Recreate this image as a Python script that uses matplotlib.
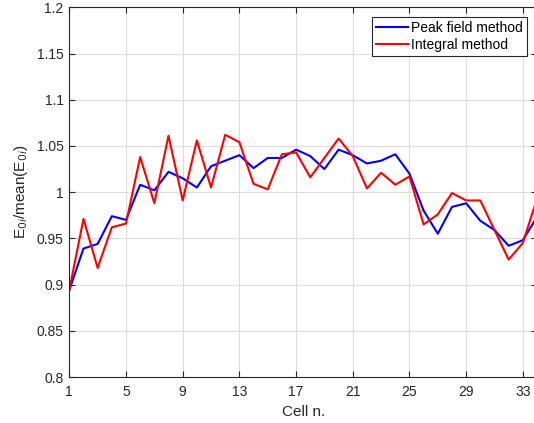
import matplotlib
matplotlib.use("Agg")
import matplotlib.pyplot as plt
import numpy as np

cells = list(range(1, 35))
peak_field = [0.894, 0.939, 0.944, 0.974, 0.970, 1.008, 1.002, 1.022, 1.015, 1.005,
              1.028, 1.034, 1.040, 1.026, 1.037, 1.037, 1.046, 1.039, 1.025, 1.046,
              1.040, 1.031, 1.034, 1.041, 1.020, 0.980, 0.955, 0.984, 0.988, 0.969,
              0.959, 0.942, 0.948, 0.973]
integral = [0.894, 0.971, 0.918, 0.962, 0.966, 1.038, 0.988, 1.061, 0.991, 1.056,
            1.005, 1.062, 1.054, 1.009, 1.003, 1.041, 1.043, 1.016, 1.037, 1.058,
            1.039, 1.004, 1.021, 1.008, 1.017, 0.965, 0.976, 0.999, 0.991, 0.991,
            0.959, 0.927, 0.945, 0.993]
xticks = [1, 5, 9, 13, 17, 21, 25, 29, 33]
yticks = [0.8, 0.85, 0.9, 0.95, 1.0, 1.05, 1.1, 1.15, 1.2]
ytick_labels = ["0.8", "0.85", "0.9", "0.95", "1", "1.05", "1.1", "1.15", "1.2"]

plt.rcParams['font.family'] = ['Liberation Sans', 'DejaVu Sans']

fig = plt.figure(figsize=(5.34, 4.23), dpi=100)
ax = fig.add_axes([69.3/534, 1-377/423, (537-69.3)/534, (377-7.3)/423])

ax.plot(cells, peak_field, color='#0000ff', lw=1.5, label='Peak field method')
ax.plot(cells, integral, color='#ff0000', lw=1.5, label='Integral method')

ax.set_xlim(1, 34)
ax.set_ylim(0.8, 1.2)
ax.set_xticks(xticks)
ax.set_yticks(yticks)
ax.set_yticklabels(ytick_labels)
ax.grid(True, color='#dcdcdc', lw=0.8)
ax.set_axisbelow(True)
ax.tick_params(direction='in', top=True, right=True, labelsize=10, colors='#262626',
               length=4, width=0.8)
ax.tick_params(axis='x', pad=5.5)
ax.tick_params(axis='y', pad=4)
for s in ax.spines.values():
    s.set_color('#262626')
    s.set_linewidth(0.8)

ax.set_xlabel('Cell n.', fontsize=11, color='#262626', labelpad=4.5)
ax.set_ylabel(r'E$_{0i}$/mean(E$_{0i}$)', fontsize=11, color='#262626', labelpad=5)

leg = ax.legend(loc='upper right', bbox_to_anchor=((527-69.3)/(537-69.3), (377-17)/(377-7.3)),
                fontsize=10, frameon=True, fancybox=False, edgecolor='#262626',
                framealpha=1, borderpad=0.3, handlelength=2.3, handletextpad=0.25,
                labelspacing=0.2, borderaxespad=0)
leg.get_frame().set_linewidth(0.8)

fig.savefig('out.png', dpi=100)
